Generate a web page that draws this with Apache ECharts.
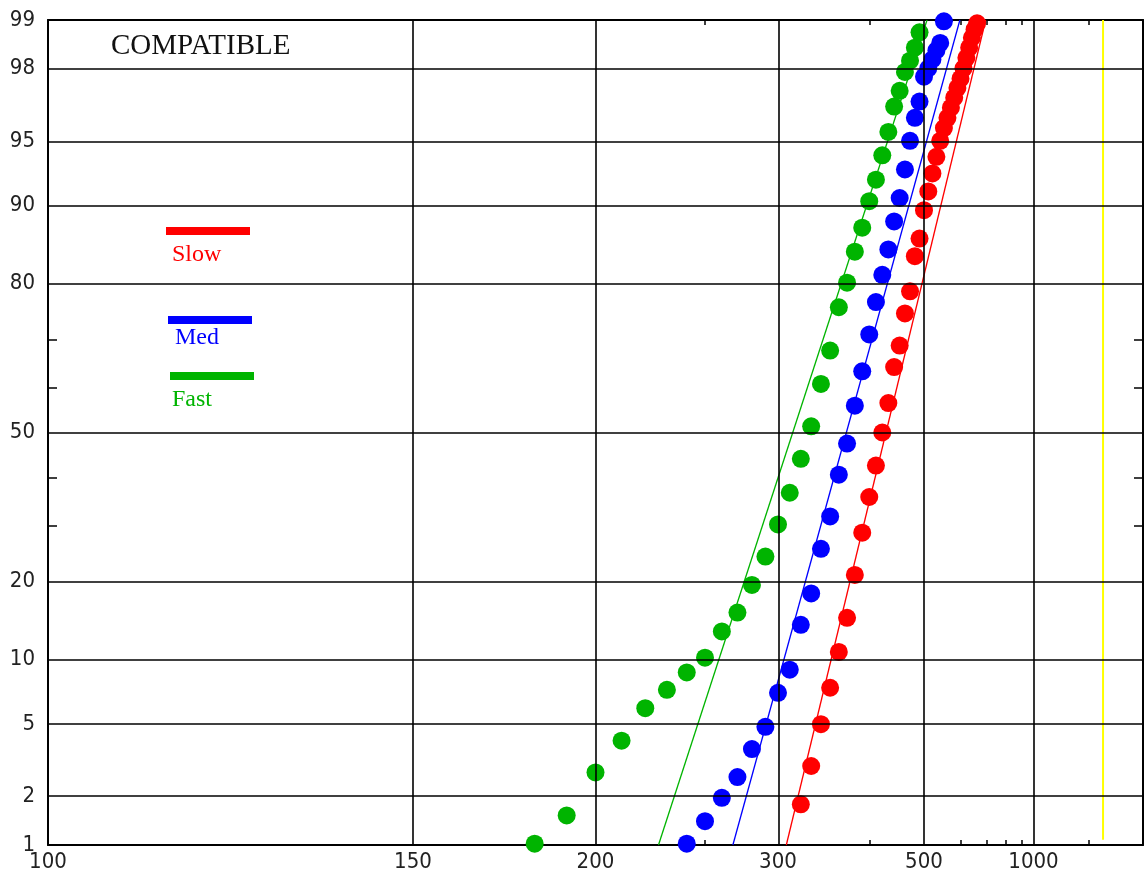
<!DOCTYPE html>
<html>
<head>
<meta charset="utf-8">
<script src="https://cdn.jsdelivr.net/npm/echarts@6/dist/echarts.min.js"></script>
<style>
html,body{margin:0;padding:0;background:#fff;}
#chart{width:1145px;height:882px;}
</style>
</head>
<body>
<div id="chart"></div>
<script>
// ---- data (response time in ms, cumulative percent) ----
const slowMs  = [320,330,340,350,360,370,380,390,400,410,420,430,440,450,460,470,480,490,500,510,520,530,540,550,560,570,580,590,600,610,620,630,640,650,660];
const slowPct = [1.8,3.0,5.0,7.5,10.8,14.8,21.1,28.6,35.8,42.6,50.0,56.6,64.4,68.8,74.9,78.7,84.0,86.3,89.5,91.3,92.8,94.0,95.0,95.7,96.2,96.65,97.05,97.4,97.7,98.0,98.27,98.5,98.7,98.85,98.95];
const medMs   = [240,250,260,270,280,290,300,310,320,330,340,350,360,370,380,390,400,410,420,430,440,450,460,470,480,490,500,510,520,530,540,550];
const medPct  = [1.02,1.42,1.97,2.6,3.71,4.85,7.1,9.05,13.9,18.2,25.6,31.8,40.6,47.5,56.0,63.5,71.0,76.9,81.3,84.9,88.3,90.7,93.1,95.0,96.2,96.9,97.76,98.0,98.23,98.44,98.6,98.98];
const fastMs  = [180,190,200,210,220,230,240,250,260,270,280,290,300,310,320,330,340,350,360,370,380,390,400,410,420,430,440,450,460,470,480,490];
const fastPct = [1.02,1.54,2.76,4.11,6.0,7.34,8.8,10.2,13.1,15.5,19.5,24.2,30.2,36.7,44.1,51.4,60.8,67.8,76.0,80.1,84.6,87.6,90.4,92.3,94.1,95.5,96.7,97.3,97.9,98.2,98.5,98.8];
// fitted lines: [ms at 1%, ms at 99%]
const fitPct  = [1, 99];
const slowFit = [307, 696];
const medFit  = [267, 598];
const fastFit = [226, 507];
// limit line
const limitMs  = [2740, 2740];
const limitPct = [1.08, 99];
// axis ticks
const xMajor = [100, 150, 200, 300, 500, 1000];
const xGrid  = [150, 200, 300, 500, 1000];
const xMinor = [250, 400, 600, 700, 800, 900, 2000];
const yMajor = [1, 2, 5, 10, 20, 50, 80, 90, 95, 98, 99];
const yGrid  = [2, 5, 10, 20, 50, 80, 90, 95, 98];
const yMinor = [30, 40, 60, 70];
const legendItems = [
  {name: 'Slow', color: '#ff0000'},
  {name: 'Med',  color: '#0000ff'},
  {name: 'Fast', color: '#00b400'}
];

// ---- scale transforms ----
function normInv(p) {
  const a=[-3.969683028665376e+01,2.209460984245205e+02,-2.759285104469687e+02,1.383577518672690e+02,-3.066479806614716e+01,2.506628277459239e+00];
  const b=[-5.447609879822406e+01,1.615858368580409e+02,-1.556989798598866e+02,6.680131188771972e+01,-1.328068155288572e+01];
  const c=[-7.784894002430293e-03,-3.223964580411365e-01,-2.400758277161838e+00,-2.549732539343734e+00,4.374664141464968e+00,2.938163982698783e+00];
  const d=[7.784695709041462e-03,3.224671290700398e-01,2.445134137142996e+00,3.754408661907416e+00];
  const pl=0.02425;
  let q,r;
  if (p < pl) {
    q = Math.sqrt(-2*Math.log(p));
    return (((((c[0]*q+c[1])*q+c[2])*q+c[3])*q+c[4])*q+c[5])/((((d[0]*q+d[1])*q+d[2])*q+d[3])*q+1);
  } else if (p <= 1-pl) {
    q = p-0.5; r = q*q;
    return (((((a[0]*r+a[1])*r+a[2])*r+a[3])*r+a[4])*r+a[5])*q/(((((b[0]*r+b[1])*r+b[2])*r+b[3])*r+b[4])*r+1);
  } else {
    q = Math.sqrt(-2*Math.log(1-p));
    return -(((((c[0]*q+c[1])*q+c[2])*q+c[3])*q+c[4])*q+c[5])/((((d[0]*q+d[1])*q+d[2])*q+d[3])*q+1);
  }
}
function normCdf(z) {
  const t = 1/(1+0.3275911*Math.abs(z)/Math.SQRT2);
  const y = 1 - (((((1.061405429*t-1.453152027)*t)+1.421413741)*t-0.284496736)*t+0.254829592)*t*Math.exp(-z*z/2);
  return z >= 0 ? 0.5*(1+y) : 0.5*(1-y);
}
const X = v => -1000 / v;          // reciprocal time scale
const Y = pct => normInv(pct / 100); // normal probability scale
const yMin = Y(1), yMax = Y(99);

const pts = (ms, pct) => ms.map((v, i) => [X(v), Y(pct[i])]);

const labelFont = "'Liberation Sans Narrow','DejaVu Sans Condensed','Liberation Sans',sans-serif";
const black = '#000';

const chart = echarts.init(document.getElementById('chart'), null, {renderer: 'canvas'});

const dotSeries = (name, ms, pct, color) => ({
  name, type: 'scatter', data: pts(ms, pct), symbol: 'circle', symbolSize: 18,
  itemStyle: {color, opacity: 1}, clip: false, z: 4, silent: true
});
const fitSeries = (name, fit, color) => ({
  name: name + ' fit', type: 'line', data: fit.map((v, i) => [X(v), Y(fitPct[i])]),
  symbol: 'none', lineStyle: {color, width: 1.3}, z: 3, silent: true
});

const option = {
  animation: false,
  backgroundColor: '#fff',
  title: {
    text: 'COMPATIBLE', left: 106, top: 27,
    textStyle: {fontFamily: "'Liberation Serif','DejaVu Serif',serif", fontSize: 29, fontWeight: 'normal', color: '#111'}
  },
  grid: {left: 48, top: 20, width: 1095, height: 825, outerBoundsMode: 'none', containLabel: false},
  xAxis: [
    {
      type: 'value', position: 'bottom', min: -10, max: 0,
      axisLine: {show: true, onZero: false, lineStyle: {color: black, width: 2}},
      axisTick: {show: true, inside: true, length: 5, customValues: xMinor.map(X), lineStyle: {color: black, width: 1.5}},
      axisLabel: {show: true, customValues: xMajor.map(X), formatter: v => String(Math.round(-1000 / v)),
        fontFamily: labelFont, fontSize: 22, color: '#222', margin: 6},
      splitLine: {show: false}
    },
    {
      type: 'value', position: 'top', min: -10, max: 0,
      axisLine: {show: true, onZero: false, lineStyle: {color: black, width: 2}},
      axisTick: {show: true, inside: true, length: 5, customValues: xMinor.map(X), lineStyle: {color: black, width: 1.5}},
      axisLabel: {show: false},
      splitLine: {show: false}
    }
  ],
  yAxis: [
    {
      type: 'value', position: 'left', min: yMin, max: yMax,
      axisLine: {show: true, onZero: false, lineStyle: {color: black, width: 2}},
      axisTick: {show: true, inside: true, length: 9, customValues: yMinor.map(Y), lineStyle: {color: black, width: 1.5}},
      axisLabel: {show: true, customValues: yMajor.map(Y), formatter: v => String(Math.round(normCdf(v) * 100)),
        fontFamily: labelFont, fontSize: 22, color: '#222', margin: 13},
      splitLine: {show: false}
    },
    {
      type: 'value', position: 'right', min: yMin, max: yMax,
      axisLine: {show: true, onZero: false, lineStyle: {color: black, width: 2}},
      axisTick: {show: true, inside: true, length: 9, customValues: yMinor.map(Y), lineStyle: {color: black, width: 1.5}},
      axisLabel: {show: false},
      splitLine: {show: false}
    }
  ],
  graphic: legendItems.flatMap((it, i) => {
    const ys = [231, 320, 376][i];
    const xs = [166, 168, 170][i];
    const ty = [255, 338, 400][i];
    const tx = [172, 175, 172][i];
    return [
      {type: 'rect', shape: {x: xs, y: ys - 4, width: 84, height: 8}, style: {fill: it.color}, silent: true, z: 10},
      {type: 'text', x: tx, y: ty, style: {text: it.name, fill: it.color, font: "24px 'Liberation Serif','DejaVu Serif',serif", verticalAlign: 'middle', textVerticalAlign: 'middle'}, silent: true, z: 10}
    ];
  }),
  series: [
    {
      name: 'grid', type: 'line', data: [], silent: true, z: 1,
      markLine: {
        silent: true, symbol: ['none', 'none'], animation: false,
        label: {show: false},
        lineStyle: {color: black, width: 1.6, type: 'solid'},
        emphasis: {disabled: true},
        data: xGrid.map(v => ({xAxis: X(v)})).concat(yGrid.map(p => ({yAxis: Y(p)})))
      }
    },
    {
      name: 'limit', type: 'line', data: limitMs.map((v, i) => [X(v), Y(limitPct[i])]),
      symbol: 'none', lineStyle: {color: '#ffff00', width: 2}, z: 2, silent: true
    },
    fitSeries('Slow', slowFit, '#ff0000'),
    fitSeries('Med', medFit, '#0000ff'),
    fitSeries('Fast', fastFit, '#00b400'),
    dotSeries('Slow', slowMs, slowPct, '#ff0000'),
    dotSeries('Med', medMs, medPct, '#0000ff'),
    dotSeries('Fast', fastMs, fastPct, '#00b400')
  ]
};
chart.setOption(option);
</script>
</body>
</html>
